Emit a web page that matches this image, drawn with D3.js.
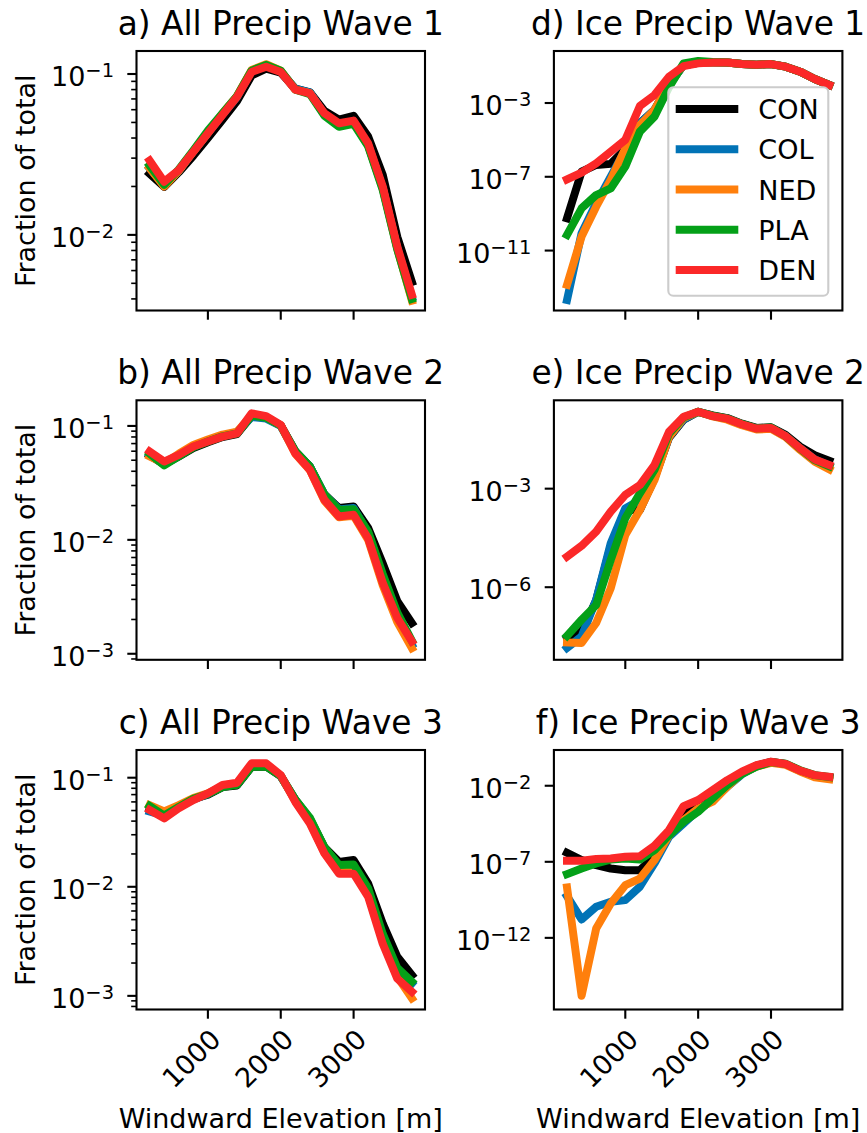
<!DOCTYPE html>
<html><head><meta charset="utf-8">
<script src="https://cdn.jsdelivr.net/npm/d3@7"></script>
<style>
body{margin:0;background:#fff;}
text{font-family:"DejaVu Sans","Liberation Sans",sans-serif;fill:#000;}
</style>
</head><body>
<svg id="chart" width="867" height="1133"></svg>
<script>
// ---------- data ----------
const elevation = [200,400,600,800,1000,1200,1400,1600,1800,2000,2200,2400,2600,2800,3000,3200,3400,3600,3800];
const seriesNames = ["CON","COL","NED","PLA","DEN"];
const seriesColors = ["#000000","#0173b6","#ff7f0c","#04a018","#fb2828"];
const titles = ["a) All Precip Wave 1","b) All Precip Wave 2","c) All Precip Wave 3","d) Ice Precip Wave 1","e) Ice Precip Wave 2","f) Ice Precip Wave 3"];
const xTickValues = [1000,2000,3000];

// a) All precip wave 1
const allW1_CON = [0.024,0.0199,0.0245,0.031,0.040,0.052,0.068,0.098,0.108,0.102,0.081,0.077,0.059,0.052,0.055,0.0408,0.0236,0.0097,0.0051];
const allW1_COL = [0.026,0.0203,0.025,0.033,0.043,0.056,0.072,0.105,0.113,0.104,0.081,0.077,0.056,0.048,0.050,0.036,0.0195,0.0083,0.0041];
const allW1_NED = [0.026,0.020,0.025,0.033,0.043,0.057,0.073,0.106,0.115,0.105,0.080,0.076,0.056,0.048,0.050,0.036,0.0195,0.0082,0.0039];
const allW1_PLA = [0.027,0.0205,0.0255,0.0335,0.0445,0.057,0.073,0.105,0.114,0.105,0.080,0.075,0.055,0.047,0.049,0.0355,0.019,0.0081,0.0040];
const allW1_DEN = [0.029,0.0214,0.0253,0.0329,0.0428,0.0556,0.0723,0.103,0.111,0.103,0.080,0.0758,0.057,0.0494,0.0513,0.037,0.020,0.00845,0.00424];
// b) All precip wave 2
const allW2_CON = [0.055,0.046,0.054,0.064,0.072,0.080,0.085,0.122,0.118,0.101,0.060,0.044,0.025,0.019,0.0196,0.0127,0.0062,0.0029,0.00186];
const allW2_COL = [0.056,0.046,0.055,0.066,0.074,0.082,0.088,0.120,0.116,0.100,0.059,0.044,0.025,0.0185,0.019,0.0115,0.0048,0.0022,0.0012];
const allW2_NED = [0.054,0.047,0.057,0.068,0.076,0.084,0.089,0.124,0.119,0.101,0.057,0.041,0.022,0.0158,0.0163,0.0100,0.0040,0.0019,0.00112];
const allW2_PLA = [0.057,0.045,0.054,0.065,0.073,0.081,0.086,0.123,0.118,0.101,0.060,0.044,0.025,0.0183,0.0186,0.0118,0.0050,0.0023,0.0013];
const allW2_DEN = [0.0596,0.0487,0.0557,0.0659,0.073,0.0806,0.086,0.129,0.122,0.102,0.0575,0.0411,0.0224,0.016,0.0166,0.0103,0.0042,0.00206,0.00128];
// c) All precip wave 3
const allW3_CON = [0.052,0.047,0.055,0.064,0.070,0.082,0.085,0.126,0.127,0.103,0.063,0.042,0.023,0.0169,0.0176,0.0107,0.0046,0.00228,0.00155];
const allW3_COL = [0.049,0.045,0.054,0.063,0.071,0.083,0.087,0.128,0.129,0.104,0.062,0.040,0.021,0.0150,0.0152,0.0090,0.0035,0.0017,0.0013];
const allW3_NED = [0.056,0.049,0.056,0.065,0.072,0.084,0.088,0.130,0.131,0.104,0.061,0.039,0.0205,0.0138,0.0138,0.0085,0.0032,0.0015,0.00095];
const allW3_PLA = [0.055,0.045,0.054,0.064,0.071,0.082,0.086,0.126,0.127,0.104,0.063,0.043,0.023,0.0158,0.0160,0.0097,0.0037,0.0018,0.00135];
const allW3_DEN = [0.0505,0.0424,0.0524,0.0624,0.0718,0.0857,0.090,0.1355,0.1355,0.1057,0.060,0.038,0.0202,0.0132,0.0132,0.0081,0.0030,0.00144,0.00109];
// d) Ice precip wave 1
const iceW1_CON = [5.62e-10,1.91e-7,4.37e-7,5.01e-7,3.16e-6,7.94e-5,4.17e-4,1.0e-2,0.112,0.151,0.158,0.158,0.129,0.120,0.129,0.0933,0.0501,0.0200,0.00955];
const iceW1_COL = [2.09e-14,8.71e-11,3.63e-9,1.02e-7,2.82e-6,7.94e-5,4.17e-4,9.55e-3,0.112,0.151,0.158,0.158,0.129,0.120,0.129,0.0933,0.0501,0.0200,0.00955];
const iceW1_NED = [1.38e-13,5.75e-11,2.40e-9,6.76e-8,3.47e-6,6.46e-5,4.17e-4,1.17e-2,0.112,0.151,0.158,0.158,0.129,0.120,0.129,0.0933,0.0501,0.0200,0.00955];
const iceW1_PLA = [7.08e-11,1.95e-9,1.02e-8,2.34e-8,3.55e-7,2.82e-5,1.82e-4,7.08e-3,0.141,0.191,0.166,0.158,0.132,0.120,0.129,0.0933,0.0501,0.0200,0.00955];
const iceW1_DEN = [7.24e-8,1.66e-7,5.37e-7,2.29e-6,1.0e-5,6.92e-4,2.69e-3,2.69e-2,0.100,0.141,0.158,0.158,0.129,0.120,0.129,0.0933,0.0501,0.0200,0.00955];
// e) Ice precip wave 2
const iceW2_CON = [2.82e-8,4.47e-8,3.98e-7,1.78e-5,2.24e-4,2.24e-4,2.04e-3,3.55e-2,0.126,0.219,0.170,0.141,0.0955,0.0708,0.0741,0.0437,0.0191,0.0105,7.08e-3];
const iceW2_COL = [1.41e-8,3.16e-8,4.17e-7,2.19e-5,2.51e-4,4.57e-4,2.29e-3,3.80e-2,0.129,0.219,0.162,0.135,0.0912,0.0676,0.0708,0.0398,0.0170,7.76e-3,5.01e-3];
const iceW2_NED = [2.09e-8,2.0e-8,8.13e-8,9.33e-7,3.89e-5,2.24e-4,1.82e-3,3.80e-2,0.141,0.219,0.158,0.126,0.0851,0.0631,0.0661,0.0372,0.0151,6.61e-3,3.89e-3];
const iceW2_PLA = [3.31e-8,1.02e-7,2.88e-7,6.76e-6,1.26e-4,7.24e-4,3.72e-3,4.79e-2,0.148,0.219,0.166,0.138,0.0933,0.0692,0.0724,0.0398,0.0166,7.41e-3,4.79e-3];
const iceW2_DEN = [8.51e-6,1.82e-5,4.90e-5,2.0e-4,6.46e-4,1.29e-3,5.25e-3,5.37e-2,0.155,0.219,0.162,0.135,0.0912,0.0676,0.0708,0.0398,0.0170,7.76e-3,5.25e-3];
// f) Ice precip wave 3
const iceW3_CON = [3.89e-7,1.29e-7,6.03e-8,3.63e-8,2.82e-8,2.82e-8,2.14e-7,1.0e-5,1.26e-4,7.94e-4,3.98e-3,1.78e-2,7.08e-2,0.209,0.372,0.269,0.0955,0.0468,0.0355];
const iceW3_COL = [5.50e-10,1.62e-11,1.10e-10,2.34e-10,3.02e-10,2.29e-9,7.76e-8,4.37e-6,3.31e-5,2.51e-4,1.15e-3,8.51e-3,5.62e-2,0.191,0.355,0.263,0.0933,0.0447,0.0331];
const iceW3_NED = [2.04e-9,1.58e-16,4.07e-12,1.82e-10,2.88e-9,7.94e-9,1.29e-7,5.62e-6,5.50e-5,3.24e-4,8.91e-4,8.51e-3,6.46e-2,0.178,0.324,0.240,0.0871,0.0355,0.0263];
const iceW3_PLA = [1.55e-8,3.63e-8,7.76e-8,1.41e-7,1.66e-7,1.41e-7,5.89e-7,5.62e-6,4.27e-5,1.95e-4,1.48e-3,1.10e-2,5.89e-2,0.178,0.363,0.282,0.105,0.0501,0.0380];
const iceW3_DEN = [1.17e-7,1.17e-7,1.51e-7,1.66e-7,2.14e-7,2.34e-7,1.12e-6,1.20e-5,4.57e-4,1.15e-3,5.13e-3,2.34e-2,8.32e-2,0.229,0.380,0.269,0.0977,0.0501,0.0389];

// y tick values (labelled) per panel
const yTicksA = [1e-2,1e-1];
const yTicksB = [1e-3,1e-2,1e-1];
const yTicksC = [1e-3,1e-2,1e-1];
const yTicksD = [1e-11,1e-7,1e-3];
const yTicksE = [1e-6,1e-3];
const yTicksF = [1e-12,1e-7,1e-2];

// ---------- layout ----------
const W = 867, H = 1133;
const colLeft = [136.5, 553.9];
const axW = 288.5;
const rowTop = [51, 400.3, 750];
const axH = 259.5;
const FS = 27, TFS = 32.8;

const panels = [
  {title:titles[0], series:[allW1_CON,allW1_COL,allW1_NED,allW1_PLA,allW1_DEN], col:0,row:0, dom:[-2.47,-0.857], ticks:yTicksA, minor:true},
  {title:titles[1], series:[allW2_CON,allW2_COL,allW2_NED,allW2_PLA,allW2_DEN], col:0,row:1, dom:[-3.053,-0.775], ticks:yTicksB, minor:true},
  {title:titles[2], series:[allW3_CON,allW3_COL,allW3_NED,allW3_PLA,allW3_DEN], col:0,row:2, dom:[-3.125,-0.746], ticks:yTicksC, minor:true},
  {title:titles[3], series:[iceW1_CON,iceW1_COL,iceW1_NED,iceW1_PLA,iceW1_DEN], col:1,row:0, dom:[-14.25,-0.18], ticks:yTicksD, minor:false, legend:true},
  {title:titles[4], series:[iceW2_CON,iceW2_COL,iceW2_NED,iceW2_PLA,iceW2_DEN], col:1,row:1, dom:[-8.21,-0.31], ticks:yTicksE, minor:false},
  {title:titles[5], series:[iceW3_CON,iceW3_COL,iceW3_NED,iceW3_PLA,iceW3_DEN], col:1,row:2, dom:[-16.71,0.35], ticks:yTicksF, minor:false}
];

const svg = d3.select("#chart");
svg.append("rect").attr("width",W).attr("height",H).attr("fill","#fff");

function supLabel(sel, exp){
  sel.text("10");
  sel.append("tspan").attr("font-size", (FS*0.72).toFixed(2)).attr("dy",-8.7).text("\u2212"+Math.abs(exp));
}

panels.forEach((p, i) => {
  const x0 = colLeft[p.col], y0 = rowTop[p.row];
  const x = d3.scaleLinear().domain([20, 3980]).range([x0, x0 + axW]);
  const y = d3.scaleLog().domain([Math.pow(10,p.dom[0]), Math.pow(10,p.dom[1])]).range([y0 + axH, y0]);
  const g = svg.append("g");

  const cid = "clip"+i;
  svg.append("clipPath").attr("id",cid).append("rect").attr("x",x0).attr("y",y0).attr("width",axW).attr("height",axH);

  const line = d3.line().x((d,j)=>x(elevation[j])).y(d=>y(d));
  const lg = g.append("g").attr("clip-path","url(#"+cid+")");
  p.series.forEach((s, k) => {
    lg.append("path").attr("d", line(s)).attr("fill","none")
      .attr("stroke", seriesColors[k]).attr("stroke-width", 8)
      .attr("stroke-linejoin","round").attr("stroke-linecap","square");
  });

  xTickValues.forEach(v => {
    g.append("line").attr("x1",x(v)).attr("x2",x(v)).attr("y1",y0+axH).attr("y2",y0+axH+9.2)
      .attr("stroke","#000").attr("stroke-width",2.1);
    if (p.row === 2) {
      const ax = x(v) + 14.5, ay = y0 + axH + 31.5;
      g.append("text").attr("transform",`translate(${ax},${ay}) rotate(-45)`)
        .attr("text-anchor","end").attr("font-size",FS).text(v);
    }
  });

  if (p.minor) {
    for (let k = Math.floor(p.dom[0]); k <= Math.ceil(p.dom[1]); k++) {
      for (let m = 2; m <= 9; m++) {
        const v = m * Math.pow(10, k);
        const lv = Math.log10(v);
        if (lv >= p.dom[0] && lv <= p.dom[1]) {
          g.append("line").attr("x1",x0).attr("x2",x0-5.3).attr("y1",y(v)).attr("y2",y(v))
            .attr("stroke","#000").attr("stroke-width",1.6);
        }
      }
    }
  }
  p.ticks.forEach(v => {
    g.append("line").attr("x1",x0).attr("x2",x0-9.2).attr("y1",y(v)).attr("y2",y(v))
      .attr("stroke","#000").attr("stroke-width",2.1);
    const t = g.append("text").attr("x", x0 - 22.5).attr("y", y(v) + 12)
      .attr("text-anchor","end").attr("font-size",FS);
    supLabel(t, Math.round(Math.log10(v)));
  });

  g.append("rect").attr("x",x0).attr("y",y0).attr("width",axW).attr("height",axH)
    .attr("fill","none").attr("stroke","#000").attr("stroke-width",2.1);

  g.append("text").attr("x", x0 + axW/2).attr("y", y0 - 16).attr("text-anchor","middle")
    .attr("font-size",TFS).text(p.title);

  if (p.col === 0) {
    g.append("text").attr("transform",`translate(34.5,${y0+axH/2}) rotate(-90)`)
      .attr("text-anchor","middle").attr("font-size",FS).text("Fraction of total");
  }
  if (p.row === 2) {
    g.append("text").attr("x", x0 + axW/2).attr("y", 1128.3).attr("text-anchor","middle")
      .attr("font-size",FS).text("Windward Elevation [m]");
  }

  if (p.legend) {
    const lgd = svg.append("g");
    lgd.append("rect").attr("x",668.3).attr("y",87.3).attr("width",160).attr("height",208.4)
      .attr("rx",5).attr("ry",5).attr("fill","#fff").attr("fill-opacity",0.8)
      .attr("stroke","#cccccc").attr("stroke-width",2.1);
    seriesNames.forEach((name, k) => {
      const cy = 109 + k * 40.25;
      lgd.append("line").attr("x1",679.7).attr("x2",734.3).attr("y1",cy).attr("y2",cy)
        .attr("stroke",seriesColors[k]).attr("stroke-width",8).attr("stroke-linecap","square");
      lgd.append("text").attr("x",758.3).attr("y",cy+10).attr("font-size",FS).text(name);
    });
  }
});
</script>
</body></html>
